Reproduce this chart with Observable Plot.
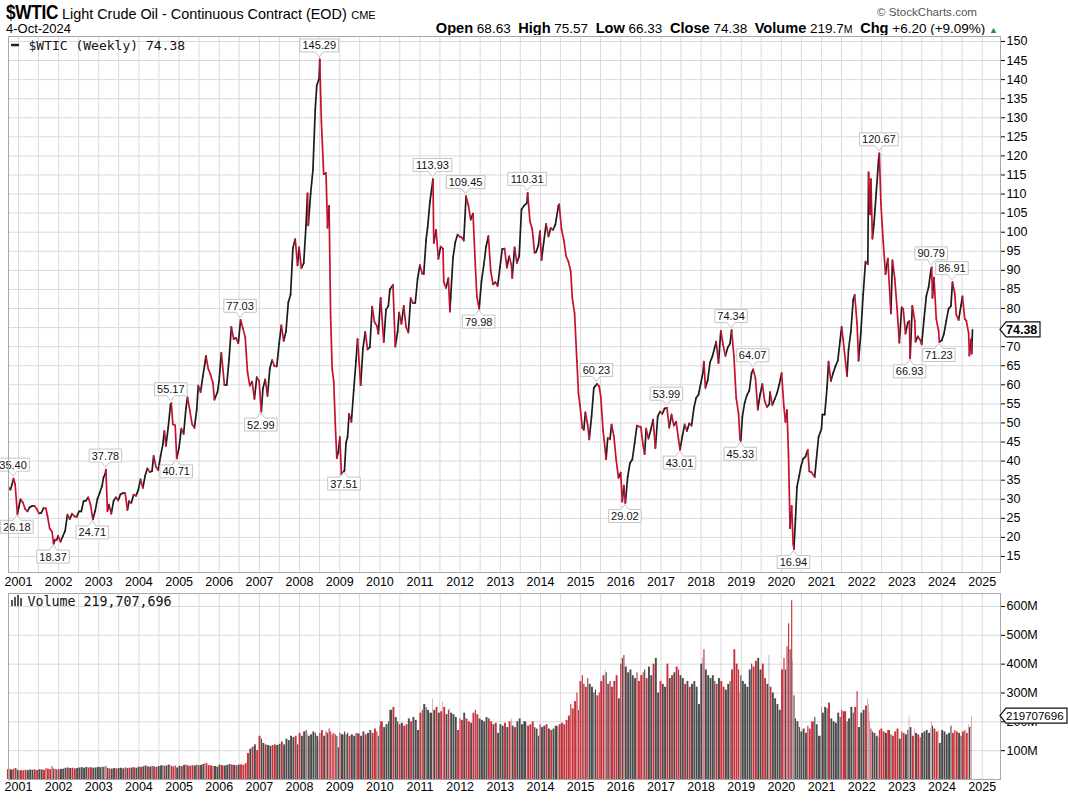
<!DOCTYPE html>
<html><head><meta charset="utf-8">
<script src="https://cdn.jsdelivr.net/npm/d3@7"></script>
<script src="https://cdn.jsdelivr.net/npm/@observablehq/plot@0.6"></script>
<style>
body{margin:0;background:#fff;font-family:"Liberation Sans",Arial,sans-serif;}
#wrap{position:relative;width:1068px;height:804px;overflow:hidden;background:#fff}
.h{position:absolute;white-space:nowrap;color:#000;line-height:1}
.h b{font-weight:bold;font-size:14.6px}
</style></head><body>
<div id="wrap">
 <div class="h" style="left:6px;top:2px;"><span style="display:inline-block;transform:scaleX(0.86);transform-origin:left;width:56px;font-weight:bold;font-size:20px;letter-spacing:-0.3px">$WTIC</span><span style="font-size:14.4px">Light Crude Oil - Continuous Contract (EOD)</span> <span style="font-size:11px">CME</span></div>
 <div class="h" style="left:6px;top:22px;font-size:13px">4-Oct-2024</div>
 <div class="h" style="left:877px;top:6px;font-size:11.6px;color:#555">© StockCharts.com</div>
 <div class="h" style="right:70px;top:21px;font-size:13.5px"><b>Open</b> 68.63&nbsp; <b>High</b> 75.57&nbsp; <b>Low</b> 66.33&nbsp; <b>Close</b> 74.38&nbsp; <b>Volume</b> 219.7<span style="font-size:10.5px">M</span>&nbsp; <b>Chg</b> +6.20 (+9.09%) <span style="color:#2a8a2a;font-size:9px">▲</span></div>
 <div id="price" style="position:absolute;left:0;top:35px"></div>
 <div id="vol" style="position:absolute;left:0;top:590px"></div>
</div>
<script>
const dates = [
"2000-10-06","2000-10-20","2000-11-17","2000-12-01","2000-12-22",
"2001-01-05","2001-01-19","2001-02-09","2001-03-02","2001-03-23","2001-04-13","2001-05-04","2001-05-25","2001-06-15","2001-07-06","2001-07-27","2001-08-17","2001-09-07","2001-09-21","2001-10-12","2001-11-02","2001-11-16","2001-11-30","2001-12-14","2001-12-28",
"2002-01-18","2002-02-08","2002-03-01","2002-03-22","2002-04-12","2002-05-03","2002-05-24","2002-06-14","2002-07-05","2002-07-26","2002-08-16","2002-09-06","2002-09-27","2002-10-18","2002-11-08","2002-11-29","2002-12-20",
"2003-01-10","2003-01-31","2003-02-14","2003-02-28","2003-03-07","2003-03-21","2003-04-04","2003-04-25","2003-05-16","2003-06-06","2003-06-27","2003-07-18","2003-08-08","2003-08-29","2003-09-19","2003-10-03","2003-10-24","2003-11-14","2003-12-05","2003-12-26",
"2004-01-16","2004-02-06","2004-02-27","2004-03-19","2004-04-09","2004-04-30","2004-05-14","2004-06-04","2004-06-25","2004-07-16","2004-08-06","2004-08-20","2004-09-03","2004-09-24","2004-10-15","2004-10-22","2004-11-05","2004-11-26","2004-12-10","2004-12-31",
"2005-01-21","2005-02-11","2005-03-04","2005-03-18","2005-04-08","2005-04-29","2005-05-20","2005-06-10","2005-06-24","2005-07-15","2005-08-05","2005-08-26","2005-09-02","2005-09-23","2005-10-14","2005-11-04","2005-11-18","2005-12-16","2005-12-30",
"2006-01-20","2006-02-17","2006-03-10","2006-03-31","2006-04-21","2006-05-12","2006-06-02","2006-06-23","2006-07-14","2006-08-04","2006-08-25","2006-09-15","2006-10-06","2006-10-27","2006-11-17","2006-12-08","2006-12-29",
"2007-01-19","2007-02-02","2007-02-23","2007-03-16","2007-04-06","2007-04-27","2007-05-18","2007-06-08","2007-06-29","2007-07-20","2007-08-10","2007-08-31","2007-09-21","2007-10-12","2007-11-02","2007-11-23","2007-12-14","2007-12-28",
"2008-01-18","2008-02-08","2008-02-29","2008-03-14","2008-03-21","2008-04-11","2008-05-02","2008-05-23","2008-06-06","2008-06-27","2008-07-03","2008-07-18","2008-08-08","2008-08-29","2008-09-12","2008-09-26","2008-10-10","2008-10-24","2008-11-07","2008-11-21","2008-12-05","2008-12-19",
"2009-01-02","2009-01-16","2009-02-13","2009-02-27","2009-03-13","2009-03-27","2009-04-17","2009-05-08","2009-05-29","2009-06-12","2009-07-10","2009-07-31","2009-08-21","2009-09-11","2009-10-02","2009-10-23","2009-11-13","2009-12-04","2009-12-18","2009-12-31",
"2010-01-08","2010-02-05","2010-02-26","2010-03-19","2010-04-02","2010-04-30","2010-05-21","2010-06-11","2010-06-25","2010-07-16","2010-08-06","2010-08-27","2010-09-17","2010-10-08","2010-10-29","2010-11-19","2010-12-10","2010-12-31",
"2011-01-21","2011-02-04","2011-02-25","2011-03-11","2011-04-01","2011-04-29","2011-05-06","2011-05-27","2011-06-17","2011-07-08","2011-07-29","2011-08-05","2011-08-26","2011-09-16","2011-09-30","2011-10-07","2011-10-28","2011-11-18","2011-12-09","2011-12-30",
"2012-01-13","2012-02-03","2012-02-24","2012-03-16","2012-04-06","2012-04-27","2012-05-18","2012-06-01","2012-06-22","2012-07-13","2012-08-03","2012-08-24","2012-09-14","2012-10-05","2012-10-26","2012-11-16","2012-12-07","2012-12-28",
"2013-01-18","2013-02-08","2013-03-01","2013-03-22","2013-04-12","2013-04-19","2013-05-10","2013-05-31","2013-06-21","2013-07-12","2013-08-02","2013-08-30","2013-09-06","2013-09-27","2013-10-18","2013-11-08","2013-11-22","2013-12-13","2013-12-27",
"2014-01-10","2014-01-31","2014-02-21","2014-03-14","2014-04-04","2014-04-25","2014-05-16","2014-06-13","2014-06-20","2014-07-11","2014-08-01","2014-08-22","2014-09-12","2014-10-03","2014-10-17","2014-11-07","2014-11-28","2014-12-12","2014-12-26",
"2015-01-16","2015-01-30","2015-02-13","2015-03-06","2015-03-20","2015-04-10","2015-05-01","2015-05-15","2015-05-29","2015-06-19","2015-07-03","2015-07-24","2015-08-14","2015-08-21","2015-09-04","2015-09-25","2015-10-09","2015-10-30","2015-11-20","2015-12-11","2015-12-31",
"2016-01-15","2016-01-29","2016-02-12","2016-03-04","2016-03-25","2016-04-15","2016-05-06","2016-05-27","2016-06-10","2016-07-01","2016-07-22","2016-08-05","2016-08-19","2016-09-09","2016-09-30","2016-10-21","2016-11-11","2016-12-02","2016-12-23",
"2017-01-13","2017-02-03","2017-02-24","2017-03-17","2017-04-07","2017-04-28","2017-05-19","2017-06-09","2017-06-23","2017-07-14","2017-08-04","2017-08-25","2017-09-15","2017-10-06","2017-10-27","2017-11-17","2017-12-08","2017-12-29",
"2018-01-19","2018-01-26","2018-02-09","2018-03-02","2018-03-23","2018-04-13","2018-05-04","2018-05-18","2018-06-08","2018-06-29","2018-07-20","2018-08-10","2018-08-31","2018-09-21","2018-10-05","2018-10-26","2018-11-16","2018-12-07","2018-12-21","2018-12-28",
"2019-01-11","2019-02-01","2019-02-22","2019-03-15","2019-04-05","2019-04-19","2019-05-10","2019-05-31","2019-06-21","2019-07-12","2019-08-02","2019-08-23","2019-09-13","2019-09-20","2019-10-11","2019-11-01","2019-11-22","2019-12-13","2020-01-03",
"2020-01-24","2020-02-07","2020-02-21","2020-03-06","2020-03-20","2020-04-03","2020-04-17","2020-04-24","2020-05-08","2020-05-22","2020-06-12","2020-06-26","2020-07-17","2020-08-07","2020-08-28","2020-09-11","2020-10-02","2020-10-30","2020-11-13","2020-12-04","2020-12-31",
"2021-01-08","2021-01-29","2021-02-19","2021-03-05","2021-03-26","2021-04-16","2021-05-07","2021-05-28","2021-06-18","2021-07-02","2021-07-16","2021-08-20","2021-09-03","2021-09-24","2021-10-15","2021-10-29","2021-11-19","2021-12-03","2021-12-24",
"2022-01-14","2022-02-04","2022-02-25","2022-03-04","2022-03-11","2022-03-18","2022-03-25","2022-04-08","2022-04-22","2022-05-13","2022-06-03","2022-06-10","2022-06-24","2022-07-15","2022-08-05","2022-08-26","2022-09-23","2022-10-07","2022-10-28","2022-11-18","2022-12-09","2022-12-30",
"2023-01-13","2023-02-03","2023-02-24","2023-03-10","2023-03-17","2023-04-06","2023-04-28","2023-05-05","2023-05-26","2023-06-16","2023-06-30","2023-07-21","2023-08-11","2023-09-01","2023-09-22","2023-09-29","2023-10-06","2023-10-20","2023-11-10","2023-12-01","2023-12-08","2023-12-29",
"2024-01-19","2024-02-09","2024-03-01","2024-03-22","2024-04-05","2024-04-26","2024-05-10","2024-05-31","2024-06-21","2024-07-05","2024-07-26","2024-08-09","2024-08-30","2024-09-06","2024-09-20","2024-09-27","2024-10-04"
];
const closes = [
33.0,32.5,35.40,34.0,26.18,
28.0,30.0,29.2,27.5,26.8,27.9,28.2,28.3,27.5,26.3,26.4,27.7,27.6,25.7,22.3,21.5,18.37,19.4,19.3,20.4,
18.9,20.3,21.7,26.0,24.8,26.2,25.5,25.4,26.8,26.8,29.5,29.6,30.5,28.6,24.71,26.9,30.1,
31.7,33.5,35.8,36.6,37.78,26.9,28.6,26.2,29.6,30.5,29.7,31.3,31.6,31.6,27.2,29.5,29.0,31.2,30.9,32.4,
35.2,33.0,36.2,38.1,37.1,37.4,41.4,38.5,37.6,41.3,44.4,47.9,44.0,48.9,54.9,55.17,49.6,49.4,40.71,43.5,
48.5,47.1,53.8,56.7,53.3,49.7,48.7,53.5,59.8,58.1,62.3,66.1,67.6,64.2,62.6,60.6,56.1,58.1,61.0,
68.4,59.9,60.0,66.6,75.2,72.0,72.3,70.9,77.03,74.8,72.5,63.3,59.8,60.8,56.3,62.0,61.1,
52.99,59.0,61.4,57.1,64.3,66.5,64.9,64.8,70.7,75.6,71.5,74.0,81.6,83.7,95.9,98.2,91.3,96.0,
90.6,91.8,101.8,110.2,101.8,110.1,116.3,132.2,138.5,140.2,145.29,128.9,115.2,115.5,101.2,106.9,77.7,64.2,61.0,49.9,40.8,42.4,
46.3,36.5,37.51,44.8,46.3,52.4,50.3,58.6,66.3,72.0,59.9,69.5,73.9,69.3,69.9,80.5,76.4,75.5,73.4,79.4,
82.8,71.2,79.7,80.7,85.0,86.2,70.0,73.8,78.9,76.0,80.7,75.2,73.7,82.7,81.4,81.5,87.8,91.4,
89.1,89.0,97.9,101.2,107.9,113.93,97.2,100.6,93.0,96.2,95.7,86.9,85.4,87.96,79.2,82.98,93.3,97.4,99.4,98.8,
98.7,97.8,109.45,107.1,103.3,104.9,91.5,83.2,79.98,87.1,91.4,96.2,99.0,89.9,86.3,86.9,85.9,90.8,
95.6,95.7,90.7,93.7,91.3,88.0,96.0,91.97,93.7,105.95,106.9,107.65,110.31,102.9,100.8,94.6,94.8,96.6,100.3,
92.7,97.5,102.2,98.9,101.1,100.6,102.0,106.9,107.3,100.8,97.9,93.7,92.3,89.7,82.8,78.7,66.2,57.8,54.7,
48.7,48.2,52.8,49.6,45.7,51.6,59.2,59.7,60.23,59.6,56.9,48.1,42.5,40.5,46.1,45.7,49.6,46.6,40.4,35.6,37.0,
29.4,33.6,29.02,35.9,39.5,40.4,44.7,49.3,49.1,48.99,44.2,41.8,48.5,45.9,48.2,50.9,43.4,51.7,53.0,
52.4,53.8,53.99,48.8,52.2,49.3,50.3,45.8,43.01,46.5,49.6,47.9,49.9,49.3,53.9,56.6,57.4,60.4,
63.4,66.1,59.2,61.25,65.9,67.4,69.7,71.3,65.7,74.15,70.5,67.6,69.8,70.8,74.34,67.6,56.5,52.6,45.59,45.33,
51.6,55.3,57.3,58.5,63.1,64.07,61.7,53.5,57.4,60.2,55.7,54.2,54.9,58.1,54.7,56.2,57.8,60.1,63.05,
54.2,50.3,53.4,41.3,22.4,28.3,18.3,16.94,24.7,33.25,36.3,38.5,40.6,41.2,42.97,37.3,37.05,35.8,40.1,46.3,48.5,
52.2,52.2,59.2,66.1,60.97,63.1,64.9,66.3,71.6,75.2,71.8,62.3,69.3,73.98,82.3,83.6,76.1,66.3,73.8,
83.8,92.3,91.6,115.68,109.3,104.7,113.9,98.3,102.1,110.5,118.9,120.67,107.6,97.6,89.0,93.1,78.7,92.6,87.9,80.1,71.02,80.3,
79.9,73.4,76.3,76.7,66.93,80.7,76.8,71.3,72.7,71.8,70.6,77.1,83.2,85.6,90.03,90.79,82.8,88.1,77.2,74.1,71.23,71.65,
73.4,76.8,79.97,80.6,86.91,83.9,78.3,76.99,80.7,83.2,77.2,76.8,73.55,67.67,71.9,68.18,74.38
];
// weekly volume, millions of contracts
const volumes = [
34,36,33,35,38,
32,30,31,30,32,31,33,32,33,31,34,33,32,38,36,34,44,36,35,33,
34,35,36,39,40,38,39,37,38,40,41,39,42,40,41,39,40,
42,41,43,42,44,45,38,37,36,38,37,38,39,37,40,38,39,40,41,39,
43,42,44,47,44,43,46,44,42,45,47,48,45,47,50,49,46,44,47,40,
46,45,49,50,47,46,48,47,50,48,49,52,58,55,48,47,46,45,42,
50,48,47,49,52,50,49,48,50,51,49,55,90,105,112,120,100,
150,140,125,120,118,115,118,120,118,122,130,120,140,135,150,145,150,120,
160,150,165,170,160,150,155,165,160,150,135,160,170,150,165,160,175,165,155,160,155,150,
110,160,155,165,155,160,150,155,150,160,158,150,165,155,160,170,160,175,165,150,
185,200,180,190,200,240,250,215,200,190,195,185,190,210,200,215,205,170,
230,240,260,250,240,230,280,240,250,230,235,270,250,225,240,245,230,225,215,170,
210,205,230,210,200,195,230,240,225,210,205,200,215,210,200,190,195,160,
190,185,195,180,200,210,185,180,200,210,190,200,195,185,190,200,180,175,150,
190,180,185,190,175,170,175,185,180,190,195,190,205,220,260,245,270,300,240,
340,360,330,320,350,330,320,300,310,290,300,340,360,380,370,330,340,320,340,360,280,
400,420,430,390,370,380,360,350,370,340,360,370,380,350,390,360,400,420,300,
340,330,320,400,350,360,370,390,380,360,350,330,340,320,330,340,320,260,
400,420,450,380,360,350,360,340,330,350,340,320,310,330,340,380,450,400,380,300,
360,340,330,320,380,400,390,410,420,380,400,350,330,430,320,300,280,260,240,
380,420,380,460,540,450,620,410,290,210,200,180,165,175,160,185,175,200,215,190,150,
250,230,250,245,265,210,200,195,230,215,240,235,200,210,250,230,250,305,180,
230,240,255,280,260,230,200,175,165,160,150,145,170,175,165,160,170,155,150,165,175,140,
165,160,155,170,220,180,150,175,160,155,145,160,165,170,160,175,200,185,175,165,170,125,
170,165,155,160,185,160,170,165,160,150,165,170,160,190,180,185,219.7
];
// labelled highs and lows
const labelDates = ["2000-11-17","2000-12-22","2001-11-16","2002-11-08","2003-03-07","2004-10-22","2004-12-10","2006-07-14","2007-01-19","2008-07-03","2009-02-13","2011-04-29","2012-02-24","2012-06-22","2013-09-06","2015-05-29","2016-02-12","2017-02-24","2017-06-23","2018-10-05","2018-12-28","2019-04-19","2020-04-24","2022-06-10","2023-03-17","2023-09-29","2023-12-08","2024-04-05"];
const labelValues = [35.40,26.18,18.37,24.71,37.78,55.17,40.71,77.03,52.99,145.29,37.51,113.93,109.45,79.98,110.31,60.23,29.02,53.99,43.01,74.34,45.33,64.07,16.94,120.67,66.93,90.79,71.23,86.91];
const labelSides = ["high","low","low","low","high","high","low","high","low","high","low","high","high","low","high","high","low","high","low","high","low","high","low","high","low","high","low","high"];
const priceTicks = [15,20,25,30,35,40,45,50,55,60,65,70,75,80,85,90,95,100,105,110,115,120,125,130,135,140,145,150];
const priceTickLabels = [15,20,25,30,35,40,45,50,55,60,65,70,80,85,90,95,100,105,110,115,120,125,130,135,140,145,150]; // 75 is hidden behind the last-value tag
const volumeTicks = [100,200,300,400,500,600];
const yearLabels = [2001,2002,2003,2004,2005,2006,2007,2008,2009,2010,2011,2012,2013,2014,2015,2016,2017,2018,2019,2020,2021,2022,2023,2024,2025];
const lastClose = 74.38, lastVolume = 219707696;
const symbolLegend = "$WTIC (Weekly) 74.38";
const volumeLegend = "Volume 219,707,696";

if (dates.length !== closes.length || dates.length !== volumes.length) console.error("length mismatch", dates.length, closes.length, volumes.length);

// ---- build ----
const parse = d3.utcParse("%Y-%m-%d");
const RED = "#c8102e", BLACK = "#1c1c1c", VRED = "#c5333d", VGRAY = "#4b4b4b";
const GRID = "#dadada", FRAME = "#a8a8a8";
const rows = dates.map((d, i) => ({date: parse(d), close: closes[i], volume: volumes[i]}));
const segs = rows.slice(1).map((r, i) => ({x1: rows[i].date, y1: rows[i].close, x2: r.date, y2: r.close, up: r.close >= rows[i].close}));
const segsOrdered = segs.filter(s => s.up).concat(segs.filter(s => !s.up)); // red drawn on top
const bars = rows.map((r, i) => ({
  x1: i ? rows[i - 1].date : d3.utcDay.offset(r.date, -14), x2: r.date, v: r.volume,
  up: i ? r.close >= rows[i - 1].close : false
}));
const xDomain = [parse("2000-10-02"), parse("2025-06-16")];
const yearDates = yearLabels.map(y => new Date(Date.UTC(y, 0, 1)));
const halfYears = d3.utcMonth.every(6).range(parse("2001-01-01"), parse("2025-01-02"));
const font = "Liberation Sans, Arial, sans-serif";

function labelsMark(index, scales) {
  const g = d3.create("svg:g").attr("font-family", font).attr("font-size", 11).attr("text-anchor", "middle");
  labelDates.forEach((d, i) => {
    const px = scales.x(parse(d)), py = scales.y(labelValues[i]);
    const txt = labelValues[i].toFixed(2);
    const w = (txt.length - 1) * 6.12 + 3.06 + 5;
    const h = 13, l = px - w / 2, r = px + w / 2;
    let p, ty;
    if (labelSides[i] === "high") {
      const b = py - 7, t = b - h, tip = py - 2;
      p = `M${l},${t}H${r}V${b}H${px + 4}L${px},${tip}L${px - 4},${b}H${l}Z`;
      ty = (t + b) / 2;
    } else {
      const t = py + 7, b = t + h, tip = py + 2;
      p = `M${l},${b}H${r}V${t}H${px + 4}L${px},${tip}L${px - 4},${t}H${l}Z`;
      ty = (t + b) / 2;
    }
    g.append("path").attr("d", p).attr("fill", "white").attr("stroke", "#c4c4c4");
    g.append("text").attr("x", px).attr("y", ty).attr("dy", "0.36em").attr("fill", "#111").text(txt);
  });
  return g.node();
}
function tagMark(value, text, bold, w, fs) {
  return (index, scales, values, dims) => {
    const x0 = dims.width - dims.marginRight, py = scales.y(value);
    const g = d3.create("svg:g");
    g.append("path").attr("d", `M${x0},${py}L${x0 + 6},${py - 7.5}H${x0 + w}V${py + 7.5}H${x0 + 6}Z`)
      .attr("fill", "white").attr("stroke", "#111").attr("stroke-width", 1.2);
    g.append("text").attr("x", x0 + 6).attr("y", py).attr("dy", "0.36em").attr("text-anchor", "start")
      .attr("font-family", font).attr("font-size", fs).attr("font-weight", bold ? "bold" : "normal").text(text);
    return g.node();
  };
}
function legendDash(index, scales, values, dims) {
  return d3.create("svg:line").attr("x1", dims.marginLeft + 3).attr("x2", dims.marginLeft + 11)
    .attr("y1", dims.marginTop + 9).attr("y2", dims.marginTop + 9).attr("stroke", "#222").attr("stroke-width", 2.5).node();
}
function volIcon(index, scales, values, dims) {
  const g = d3.create("svg:g").attr("fill", "#555");
  const x = dims.marginLeft + 3, yb = dims.marginTop + 13;
  [[0, 6], [3, 9], [6, 11], [9, 8]].forEach(([dx, hh]) => g.append("rect").attr("x", x + dx).attr("y", yb - hh).attr("width", 2).attr("height", hh));
  return g.node();
}

const price = Plot.plot({
  width: 1068, height: 555, marginTop: 1, marginBottom: 18, marginLeft: 8, marginRight: 68,
  style: {fontFamily: font, fontSize: "12px", overflow: "visible", background: "white"},
  x: {type: "utc", domain: xDomain, axis: null},
  y: {domain: [10.8, 151.3], axis: null},
  color: {type: "identity"},
  marks: [
    Plot.ruleX(halfYears, {stroke: GRID}),
    Plot.ruleY(priceTicks, {stroke: GRID}),
    legendDash,
    Plot.text([symbolLegend], {frameAnchor: "top-left", dx: 20, dy: 9, lineAnchor: "middle", textAnchor: "start", fontFamily: "DejaVu Sans Mono", fontSize: 13, fill: "#111"}),
    Plot.link(segsOrdered, {x1: "x1", y1: "y1", x2: "x2", y2: "y2", stroke: d => d.up ? BLACK : RED, strokeWidth: 1.7, strokeLinecap: "round"}),
    labelsMark,
    Plot.frame({stroke: FRAME}),
    Plot.axisY(priceTickLabels, {anchor: "right", tickSize: 4, tickPadding: 2, fontSize: 12.5, label: null}),
    Plot.axisX(yearDates, {tickSize: 0, tickPadding: 5, tickFormat: d3.utcFormat("%Y"), fontSize: 12.5, label: null}),
    tagMark(lastClose, lastClose.toFixed(2), true, 40, 12.5)
  ]
});
document.getElementById("price").append(price);

const vol = Plot.plot({
  width: 1068, height: 214, marginTop: 3, marginBottom: 25, marginLeft: 8, marginRight: 68,
  style: {fontFamily: font, fontSize: "12px", overflow: "visible", background: "white"},
  x: {type: "utc", domain: xDomain, axis: null},
  y: {domain: [0, 645], axis: null},
  color: {type: "identity"},
  marks: [
    Plot.ruleX(halfYears, {stroke: GRID}),
    Plot.ruleY(volumeTicks, {stroke: GRID}),
    Plot.rect(bars, {x1: "x1", x2: "x2", y1: 0, y2: "v", fill: d => d.up ? VGRAY : VRED, insetRight: 0.4}),
    Plot.text([volumeLegend], {frameAnchor: "top-left", dx: 19, dy: 8, lineAnchor: "middle", textAnchor: "start", fontFamily: "DejaVu Sans Mono", fontSize: 13.3, fill: "#111"}),
    volIcon,
    Plot.frame({stroke: FRAME}),
    Plot.axisY(volumeTicks, {anchor: "right", tickSize: 4, tickPadding: 2, fontSize: 12.5, tickFormat: d => d + "M", label: null}),
    Plot.axisX(yearDates, {tickSize: 0, tickPadding: 3, tickFormat: d3.utcFormat("%Y"), fontSize: 12.5, label: null}),
    tagMark(lastVolume / 1e6, String(lastVolume), false, 67, 11.5)
  ]
});
document.getElementById("vol").append(vol);
</script>
</body></html>
